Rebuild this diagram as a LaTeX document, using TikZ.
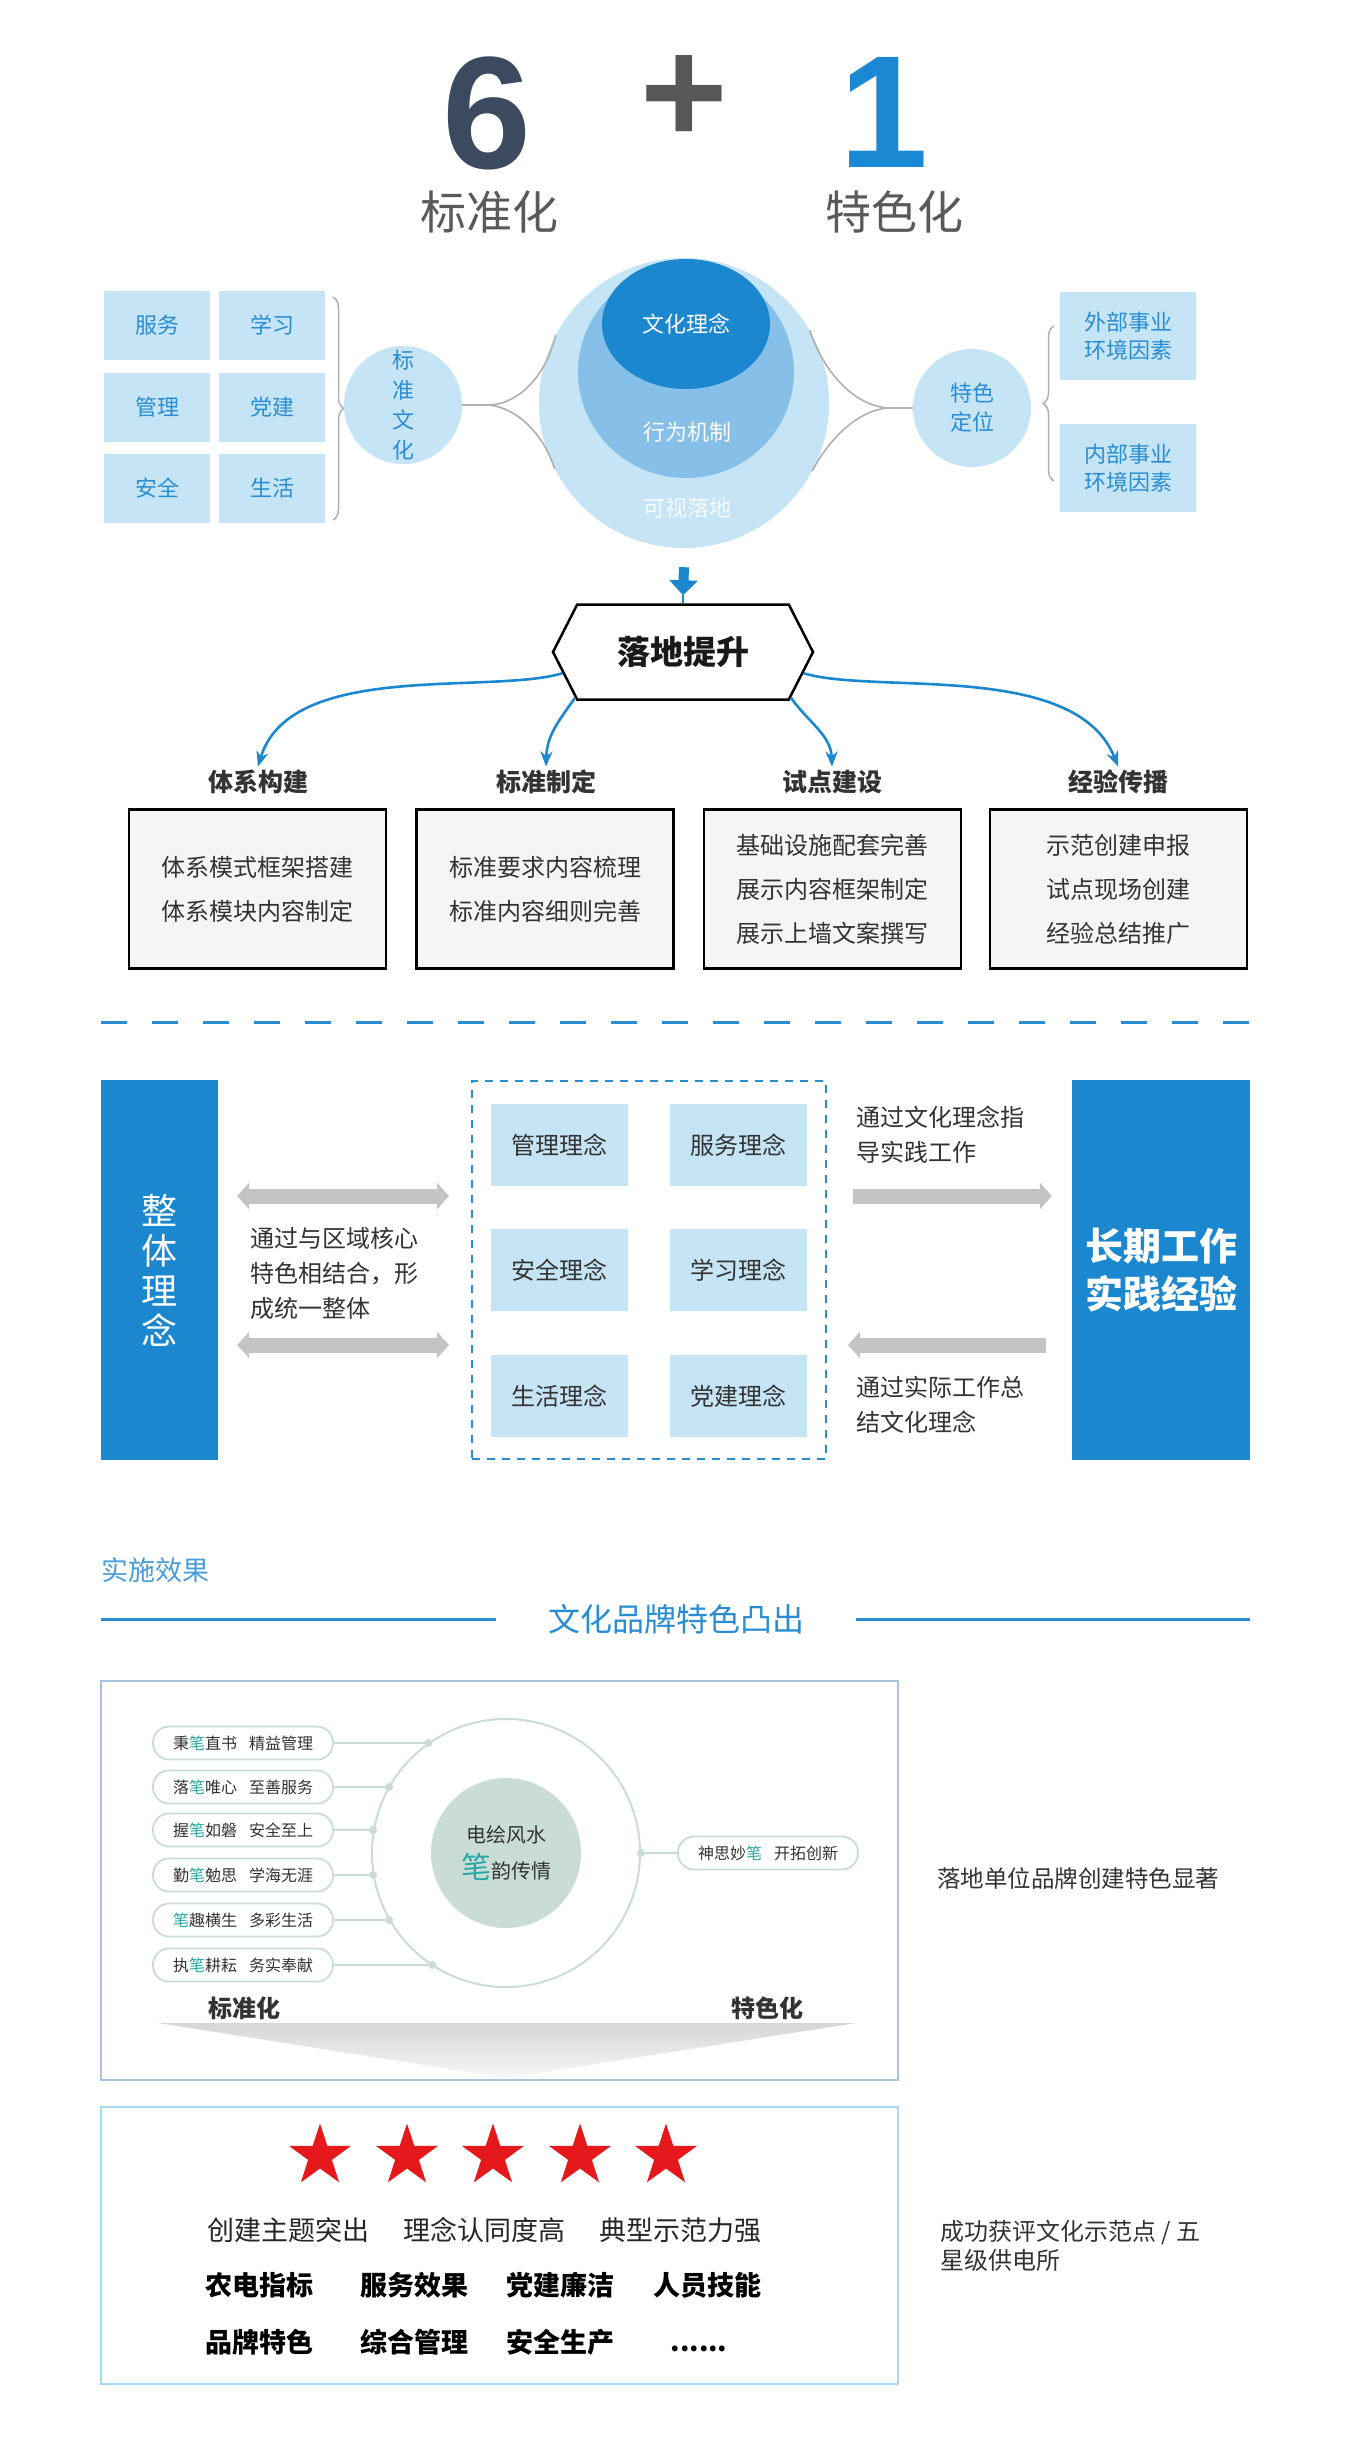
\documentclass[tikz,border=0pt]{standalone}
\usepackage{fontspec}
\setmainfont{Noto Sans CJK SC}
\newfontfamily\numfont{Liberation Sans}
\usepackage{xcolor}
\usepackage{tikz}
\usetikzlibrary{arrows.meta, positioning, calc, shapes.geometric, shapes.symbols, decorations.pathreplacing}
\definecolor{numdark}{HTML}{3B4A5F}
\definecolor{plusgray}{HTML}{575757}
\definecolor{numblue}{HTML}{1A88D2}
\definecolor{titlegray}{HTML}{5A5A5A}
\definecolor{paleblue}{HTML}{C5E4F5}
\definecolor{midblue}{HTML}{86BFE7}
\definecolor{deepblue}{HTML}{1B87CF}
\definecolor{textblue}{HTML}{2A8DD2}
\definecolor{linkgray}{HTML}{B0B0B0}
\definecolor{fatgray}{HTML}{C4C4C4}
\definecolor{penteal}{HTML}{2AA6A3}
\definecolor{sage}{HTML}{C9DDD6}
\definecolor{frameblue}{HTML}{A9C2DF}
\definecolor{skyframe}{HTML}{A6D8F2}
\definecolor{starred}{HTML}{E5191B}
\definecolor{inkgray}{HTML}{333333}
\newcommand{\fsz}[2]{\fontsize{#1}{#2}\selectfont}
\newcommand{\bi}{\textcolor{penteal}{笔}}
\tikzset{
  tile/.style={fill=paleblue, minimum width=106pt, minimum height=69pt, text=textblue, font=\fsz{22}{26}},
  bubble/.style={circle, fill=paleblue, minimum size=118pt, text=textblue, align=center},
  digit/.style={inner sep=0pt, font=\numfont\bfseries\fsz{160}{160}},
  headline/.style={inner sep=0pt, font=\fsz{46}{50}, text=titlegray},
  stem/.style={draw=linkgray, line width=1.6pt},
  bracket/.style={draw=linkgray, line width=1.5pt, decorate, decoration={brace, amplitude=11pt}},
  branch/.style={draw=deepblue, line width=2.6pt, -{Stealth[length=15pt, width=12pt]}},
  task/.style={draw, fill=gray!8, line width=2.5pt, minimum width=257pt, minimum height=159pt, align=center, font=\fsz{24}{44}, text=inkgray},
  idea/.style={fill=paleblue, minimum width=137pt, minimum height=82pt, font=\fsz{24}{28}, text=inkgray},
  pillar/.style={fill=deepblue, minimum height=380pt, text=white, align=center},
  fatboth/.style={draw=fatgray, line width=15pt, {Triangle[length=12pt, width=26pt]}-{Triangle[length=12pt, width=26pt]}},
  fatone/.style={draw=fatgray, line width=15pt, -{Triangle[length=12pt, width=26pt]}},
  note/.style={anchor=west, inner sep=0pt, align=left, font=\fsz{24}{35}, text=inkgray},
  pill/.style={draw=sage, line width=1.8pt, rounded corners=16pt, minimum width=180pt, minimum height=33pt, font=\fsz{16}{18}, text=inkgray, fill=white},
  spoke/.style={draw=sage, line width=1.8pt},
  knob/.style={circle, fill=sage, inner sep=0pt, minimum size=8pt},
  redstar/.style={star, star points=5, star point ratio=2.6, fill=starred, minimum size=65pt, inner sep=0pt}
}
\newcommand{\slogan}[4]{%
  \node[pill] (#1) at (243,#2) {#4};
  \draw[spoke] (#1.east) -- (#1.east -| ring.#3) node[knob] (#1dot) {};
}

\begin{document}
\begin{tikzpicture}[x=1pt, y=-1pt, font=\fsz{22}{26}]
        \useasboundingbox (0,0) rectangle (1344,2440);
        \fill[white] (0,0) rectangle (1344,2440);

        % Title
        \node[digit, text=numdark] (six) at (487,113) {6};
        \node[digit, font=\numfont\bfseries\fsz{150}{150}, text=plusgray] (plus) at (684,100) {+};
        \node[digit, text=numblue] (one) at (884,112) {1};
        \node[headline] (stdtitle)  at (489,212) {标准化};
        \node[headline] (spectitle) at (894,212) {特色化};

        % Standard culture
        \node[tile] (service) at (157,325) {服务};
        \node[tile] (study)   at (272,325) {学习};
        \node[tile] (manage)  at (157,407) {管理};
        \node[tile] (party)   at (272,407) {党建};
        \node[tile] (safety)  at (157,488) {安全};
        \node[tile] (life)    at (272,488) {生活};
        \draw[bracket] (333,297) -- (333,520);
        \node[bubble] (stdcirc) at (403,405) {};
        \node[text=textblue, align=center, font=\fsz{22}{30}] (stdtext) at (stdcirc) {标\\准\\文\\化};

        % Core circles
        \node[circle, fill=paleblue, minimum size=290pt] (outer) at (684,403) {};
        \node[ellipse, fill=midblue, minimum width=216pt, minimum height=212pt] (middle) at (686,372) {};
        \node[ellipse, fill=deepblue, minimum width=168pt, minimum height=130pt, text=white, font=\fsz{22}{24}] (core) at (686,324) {文化理念};
        \node[text=white, font=\fsz{22}{24}] (act) at (687,432) {行为机制};
        \node[text=white!85!paleblue, font=\fsz{22}{24}] (vis) at (687,508) {可视落地};

        % Special positioning
        \node[bubble, font=\fsz{22}{29}] (spec) at (972,408) {特色\\定位};
        \draw[bracket] (1054,481) -- (1054,326);
        \node[tile, minimum width=136pt, minimum height=88pt, align=center, font=\fsz{22}{28}] (external) at (1128,336) {外部事业\\环境因素};
        \node[tile, minimum width=136pt, minimum height=88pt, align=center, font=\fsz{22}{28}] (internal) at (1128,468) {内部事业\\环境因素};

        % Stems
        \draw[stem] (stdcirc.east) -- ++(26,0) coordinate (lknot);
        \draw[stem] (lknot) .. controls (515,405) and (545,380) .. (outer.152);
        \draw[stem] (lknot) .. controls (515,407) and (543,432) .. (outer.207);
        \draw[stem] (spec.west) -- ++(-25,0) coordinate (rknot);
        \draw[stem] (rknot) .. controls (858,406) and (826,378) .. (outer.30);
        \draw[stem] (rknot) .. controls (858,410) and (828,440) .. (outer.-28);

        % Landing
        \node[signal, signal to=west and east, signal pointer angle=126, draw, line width=2.5pt, fill=white, minimum width=260pt, minimum height=95pt, font=\bfseries\fsz{33}{36}, text=black!90] (lift) at (683,652) {落地提升};
        \draw[deepblue, line width=10pt, -{Triangle[length=15pt, width=28pt]}] ([yshift=-19pt]outer.south) -- ([yshift=8pt]lift.north);
        \draw[deepblue, line width=2pt] ([yshift=8pt]lift.north) -- (lift.north);

        \node[font=\bfseries\fsz{25}{28}, text=inkgray] (system)   at (258,782)  {体系构建};
        \node[font=\bfseries\fsz{25}{28}, text=inkgray] (standard) at (546,782)  {标准制定};
        \node[font=\bfseries\fsz{25}{28}, text=inkgray] (pilot)    at (832,782)  {试点建设};
        \node[font=\bfseries\fsz{25}{28}, text=inkgray] (spread)   at (1118,782) {经验传播};

        \draw[branch] (lift.190) .. controls (490,695) and (290,660) .. (system.north);
        \draw[branch] (lift.203) .. controls (558,722) and (547,735) .. (standard.north);
        \draw[branch] (lift.-23) .. controls (808,722) and (831,735) .. (pilot.north);
        \draw[branch] (lift.-10) .. controls (876,695) and (1076,660) .. (spread.north);

        \node[task] (systembox)   at (257.5,889)  {体系模式框架搭建\\体系模块内容制定};
        \node[task] (standardbox) at (545,889)    {标准要求内容梳理\\标准内容细则完善};
        \node[task] (pilotbox)    at (832.5,889)  {基础设施配套完善\\展示内容框架制定\\展示上墙文案撰写};
        \node[task] (spreadbox)   at (1118.5,889) {示范创建申报\\试点现场创建\\经验总结推广};

        % Separator
        \draw[textblue, line width=3pt, dash pattern=on 26pt off 25pt] (101,1022) -- (1249,1022);

        % Ideas
        \node[pillar, minimum width=117pt, font=\fsz{36}{40}] (whole) at (159.5,1270) {整\\体\\理\\念};
        \node[pillar, minimum width=178pt, font=\bfseries\fsz{38}{48}] (exper) at (1161,1270) {长期工作\\实践经验};
        \node[draw=textblue, dash pattern=on 8pt off 7pt, line width=2pt, minimum width=354pt, minimum height=378pt] (dbox) at (649,1270) {};

        \node[idea] (manageidea)  at (559,1145) {管理理念};
        \node[idea] (serviceidea) at (738,1145) {服务理念};
        \node[idea] (safetyidea)  at (559,1270) {安全理念};
        \node[idea] (studyidea)   at (738,1270) {学习理念};
        \node[idea] (lifeidea)    at (559,1396) {生活理念};
        \node[idea] (partyidea)   at (738,1396) {党建理念};

        \draw[fatboth, shorten <=19pt, shorten >=22pt] (whole.east |- 0,1196) -- (dbox.west |- 0,1196);
        \draw[fatboth, shorten <=19pt, shorten >=22pt] (whole.east |- 0,1345) -- (dbox.west |- 0,1345);
        \draw[fatone, shorten <=26pt, shorten >=20pt] (dbox.east |- 0,1196) -- (exper.west |- 0,1196);
        \draw[fatone, shorten <=26pt, shorten >=21pt] (exper.west |- 0,1345) -- (dbox.east |- 0,1345);

        \node[note] (bindnote)  at (250,1273) {通过与区域核心\\特色相结合，形\\成统一整体};
        \node[note] (guidenote) at (856,1135) {通过文化理念指\\导实践工作};
        \node[note] (sumnote)   at (856,1405) {通过实际工作总\\结文化理念};

        % Effects
        \node[anchor=west, inner sep=0pt, font=\fsz{27}{30}, text=textblue!85!white] (effect) at (101,1570) {实施效果};
        \node[font=\fsz{32}{36}, text=textblue] (brand) at (676,1619) {文化品牌特色凸出};
        \draw[textblue, line width=3pt] (101,1619) -- ([xshift=-48pt]brand.west);
        \draw[textblue, line width=3pt] ([xshift=48pt]brand.east) -- (1250,1619);

        \node[draw=frameblue, line width=2pt, minimum width=797pt, minimum height=399pt] (showcase) at (499.5,1880.5) {};
        \shade[top color=gray!32, bottom color=gray!6] (158,2023) -- (856,2023) -- (506,2078) -- cycle;
        \node[circle, draw=sage, line width=2pt, minimum size=268pt] (ring) at (506,1853) {};
        \node[circle, fill=sage, minimum size=150pt, align=center, font=\fsz{20}{36}, text=inkgray] (heart) at (506,1853) {电绘风水\\{\fsz{30}{36}\bi}韵传情};

        \slogan{pen1}{1743}{125}{秉\bi 直书\hspace{12pt}精益管理}
        \slogan{pen2}{1787}{150}{落\bi 唯心\hspace{12pt}至善服务}
        \slogan{pen3}{1830}{170}{握\bi 如磐\hspace{12pt}安全至上}
        \slogan{pen4}{1875}{190}{勤\bi 勉思\hspace{12pt}学海无涯}
        \slogan{pen5}{1920}{210}{\bi 趣横生\hspace{12pt}多彩生活}
        \slogan{pen6}{1965}{237}{执\bi 耕耘\hspace{12pt}务实奉献}
        \node[pill] (pen7) at (768,1853) {神思妙\bi\hspace{12pt}开拓创新};
        \draw[spoke] (ring.east) -- (pen7.west);
        \node[knob] (pen7dot) at (ring.east) {};

        \node[font=\bfseries\fsz{24}{28}, text=inkgray] (stdlabel)  at (244,2008) {标准化};
        \node[font=\bfseries\fsz{24}{28}, text=inkgray] (speclabel) at (767,2008) {特色化};
        \node[anchor=west, inner sep=0pt, font=\fsz{23.5}{28}, text=inkgray] (brandnote) at (937,1878) {落地单位品牌创建特色显著};

        % Honour
        \node[draw=skyframe, line width=2pt, minimum width=797pt, minimum height=277pt] (honor) at (499.5,2245.5) {};
        \node[redstar] (star1) at (320,2156) {};
        \node[redstar] (star2) at (407,2156) {};
        \node[redstar] (star3) at (493,2156) {};
        \node[redstar] (star4) at (580,2156) {};
        \node[redstar] (star5) at (666,2156) {};

        \node[font=\fsz{27}{30}, text=black!85] (praise) at (484.5,2230) {创建主题突出\hspace{34pt}理念认同度高\hspace{34pt}典型示范力强};
        \node[font=\bfseries\fsz{27}{30}] (power)      at (259,2285) {农电指标};
        \node[font=\bfseries\fsz{27}{30}] (serve)      at (414,2285) {服务效果};
        \node[font=\bfseries\fsz{27}{30}] (clean)      at (560,2285) {党建廉洁};
        \node[font=\bfseries\fsz{27}{30}] (skill)      at (707,2285) {人员技能};
        \node[font=\bfseries\fsz{27}{30}] (brandtrait) at (259,2342) {品牌特色};
        \node[font=\bfseries\fsz{27}{30}] (overall)    at (414,2342) {综合管理};
        \node[font=\bfseries\fsz{27}{30}] (produce)    at (560,2342) {安全生产};
        \node[font=\bfseries\fsz{27}{30}, anchor=base] (more) at (699,2351) {......};
        \node[anchor=west, inner sep=0pt, align=left, font=\fsz{24}{29}, text=inkgray] (honornote) at (940,2246) {成功获评文化示范点 / 五\\星级供电所};
    \end{tikzpicture}
\end{document}
